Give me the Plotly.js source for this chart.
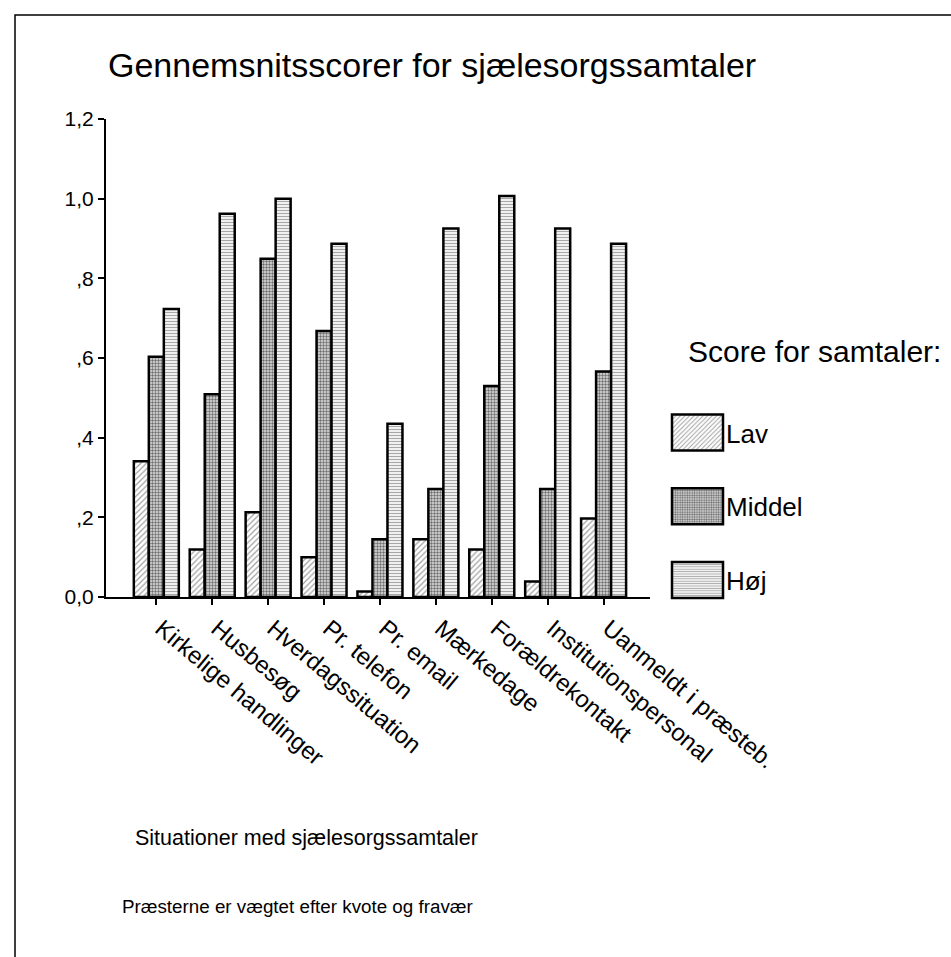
<!DOCTYPE html>
<html>
<head>
<meta charset="utf-8">
<script src="https://cdn.plot.ly/plotly-3.0.1.min.js"></script>
<style>
  html, body { margin: 0; padding: 0; background: #ffffff; }
  #chart { width: 951px; height: 957px; }
</style>
</head>
<body>
<div id="chart"></div>
<script>
// ---- data ----
const categories = [
  "Kirkelige handlinger",
  "Husbesøg",
  "Hverdagssituation",
  "Pr. telefon",
  "Pr. email",
  "Mærkedage",
  "Forældrekontakt",
  "Institutionspersonal",
  "Uanmeldt i præsteb."
];
const seriesNames = ["Lav", "Middel", "Høj"];
const lav    = [0.341, 0.119, 0.213, 0.100, 0.014, 0.145, 0.119, 0.039, 0.197];
const middel = [0.603, 0.509, 0.849, 0.668, 0.145, 0.271, 0.530, 0.271, 0.566];
const hoj    = [0.723, 0.962, 1.000, 0.887, 0.435, 0.925, 1.007, 0.925, 0.887];
const yTickVals = [0, 0.2, 0.4, 0.6, 0.8, 1.0, 1.2];
const yTickText = ["0,0", ",2", ",4", ",6", ",8", "1,0", "1,2"];
const titleText = "Gennemsnitsscorer for sjælesorgssamtaler";
const xTitleText = "Situationer med sjælesorgssamtaler";
const footnoteText = "Præsterne er vægtet efter kvote og fravær";
const legendTitleText = "Score for samtaler:";

// ---- geometry (pixels) ----
const W = 951, H = 957;
const M = { l: 106, r: 301, t: 119, b: 360 };
const PW = W - M.l - M.r, PH = H - M.t - M.b;
const px2x = p => (p - M.l) / PW;
const px2y = p => (H - M.b - p) / PH;

const FONT = "Liberation Sans, Arial, Helvetica, sans-serif";
const outline = { color: "#000000", width: 2.5 };

const patterns = [
  { shape: "/", fgcolor: "#a0a0a0", bgcolor: "#ffffff", size: 4, solidity: 0.3 },
  { shape: ".", fgcolor: "#6e6e6e", bgcolor: "#e2e2e2", size: 3, solidity: 0.5 },
  { shape: "-", fgcolor: "#a8a8a8", bgcolor: "#ffffff", size: 3, solidity: 0.45 }
];
const values = [lav, middel, hoj];

const traces = seriesNames.map((name, i) => ({
  type: "bar",
  name: name,
  x: categories,
  y: values[i],
  legendgroup: "g" + i,
  marker: { color: "#ffffff", line: outline, pattern: patterns[i] },
  hoverinfo: "x+y+name"
}));

const layout = {
  width: W, height: H,
  margin: M,
  paper_bgcolor: "#ffffff",
  plot_bgcolor: "#ffffff",
  font: { family: FONT, color: "#000000" },
  title: {
    text: titleText,
    font: { family: FONT, size: 34, color: "#000000" },
    xref: "paper", x: px2x(108), xanchor: "left",
    yref: "container", y: 1 - 65 / H, yanchor: "middle"
  },
  barmode: "group",
  bargap: 0.195,
  bargroupgap: 0,
  showlegend: true,
  legend: {
    x: px2x(656), xanchor: "left",
    y: px2y(409), yanchor: "top",
    font: { family: FONT, size: 26, color: "#000000" },
    itemwidth: 60,
    tracegroupgap: 37,
    traceorder: "grouped",
    bgcolor: "rgba(0,0,0,0)",
    borderwidth: 0
  },
  xaxis: {
    type: "category",
    categoryorder: "array",
    categoryarray: categories,
    range: [-0.9, 8.83],
    showline: true, linecolor: "#000000", linewidth: 2,
    ticks: "outside", ticklen: 6, tickwidth: 2, tickcolor: "#000000",
    tickangle: 40,
    ticklabelshift: 5,
    tickfont: { family: FONT, size: 24, color: "#000000" },
    showgrid: false, zeroline: false
  },
  yaxis: {
    range: [0, 1.2],
    tickvals: yTickVals, ticktext: yTickText,
    showline: true, linecolor: "#000000", linewidth: 2,
    ticks: "outside", ticklen: 6, tickwidth: 2, tickcolor: "#000000",
    tickfont: { family: FONT, size: 21, color: "#000000" },
    showgrid: false, zeroline: false
  },
  annotations: [
    {
      text: legendTitleText, showarrow: false,
      xref: "paper", yref: "paper",
      x: px2x(686), y: px2y(351), xanchor: "left", yanchor: "middle",
      font: { family: FONT, size: 30, color: "#000000" }
    },
    {
      text: xTitleText, showarrow: false,
      xref: "paper", yref: "paper",
      x: px2x(133), y: px2y(838), xanchor: "left", yanchor: "middle",
      font: { family: FONT, size: 21.5, color: "#000000" }
    },
    {
      text: footnoteText, showarrow: false,
      xref: "paper", yref: "paper",
      x: px2x(120), y: px2y(906), xanchor: "left", yanchor: "middle",
      font: { family: FONT, size: 18.8, color: "#000000" }
    }
  ],
  shapes: [
    {
      type: "rect", xref: "paper", yref: "paper",
      x0: px2x(15), x1: px2x(W + 20), y0: px2y(H + 20), y1: px2y(15),
      line: { color: "#000000", width: 1.5 }, fillcolor: "rgba(0,0,0,0)", layer: "below"
    }
  ]
};

const gd = document.getElementById("chart");
Plotly.newPlot(gd, traces, layout, { displayModeBar: false, staticPlot: true }).then(() => {
  // enlarge legend swatches to the reference's big rectangles
  gd.querySelectorAll(".legend .traces").forEach(tr => {
    const path = tr.querySelector(".legendpoints path");
    const txt = tr.querySelector("text.legendtext");
    if (!path || !txt) return;
    const pr = path.getBoundingClientRect();
    const tb = txt.getBoundingClientRect();
    const cx = (pr.left + pr.right) / 2;
    const right = tb.left - 3 - cx;
    const left = right - 51;
    path.setAttribute("d", "M" + left + ",-18H" + right + "V18H" + left + "Z");
    path.style.strokeWidth = "2.5px";
    path.style.stroke = "#000000";
  });
});
</script>
</body>
</html>
